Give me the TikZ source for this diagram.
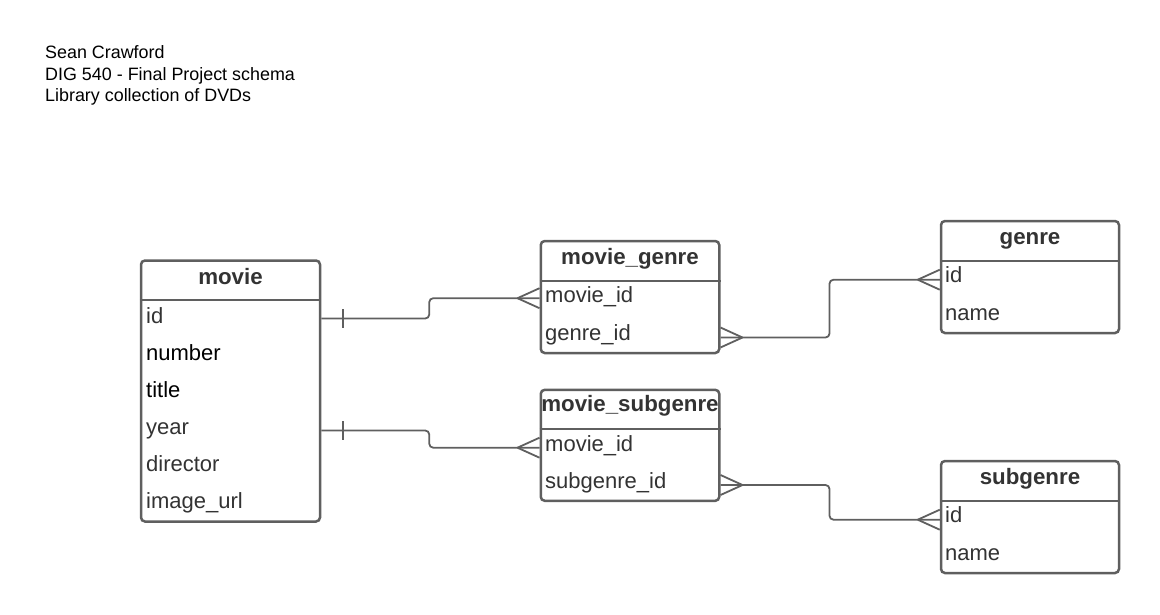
\documentclass[tikz,border=0pt]{standalone}
\usepackage{fontspec}
\setmainfont{Liberation Sans}
\usetikzlibrary{calc}
\definecolor{bordergray}{HTML}{5F5F5F}
\definecolor{textgray}{HTML}{333333}
\begin{document}
\begin{tikzpicture}[x=1pt,y=-1pt,
  tbl/.style={draw=bordergray, line width=2.5pt, rounded corners=4pt, inner sep=0pt, fill=white},
  ttl/.style={font=\fontsize{22.3}{24}\selectfont\bfseries, text=textgray, inner sep=0pt, anchor=base},
  fld/.style={font=\fontsize{22}{24}\selectfont, text=textgray, inner sep=0pt, anchor=base west, text height=14pt, text depth=4pt},
  div/.style={draw=bordergray, line width=2.5pt},
  conn/.style={draw=bordergray, line width=1.8pt},
  hdr/.style={font=\fontsize{17.9}{21.7}\selectfont, text=black, inner sep=0pt, anchor=base west, align=left},
  crowin/.pic={\draw[conn] (-22,0) -- (0,10) (-22,0) -- (0,-10);},
  crowout/.pic={\draw[conn] (22,0) -- (0,10) (22,0) -- (0,-10);},
  onebar/.pic={\draw[conn] (0,-9.5) -- (0,9.5);}
]
\useasboundingbox (0,0) rectangle (1160,614);

% header
\node[hdr] (h1) at (45,58.3) {Sean Crawford};
\node[hdr] (h2) at (45,80) {DIG 540 - Final Project schema};
\node[hdr] (h3) at (45,101.7) {Library collection of DVDs};

% movie table
\node[tbl, minimum width=179pt, minimum height=261pt] (movie) at (230.5,391) {};
\draw[div] (movie.west |- 0,300) -- (movie.east |- 0,300);
\node[ttl] (movie-t) at (230.5,284) {movie};
\node[fld] (movie-id) at (146,323) {id};
\node[fld, text=black] (movie-number) at (146,360) {number};
\node[fld, text=black] (movie-title) at (146,397) {title};
\node[fld] (movie-year) at (146,434) {year};
\node[fld] (movie-director) at (146,471) {director};
\node[fld] (movie-image) at (146,508) {image\_url};

% movie_genre table
\node[tbl, minimum width=178.5pt, minimum height=112pt] (mg) at (630,297) {};
\draw[div] (mg.west |- 0,281) -- (mg.east |- 0,281);
\node[ttl] (mg-t) at (630,264) {movie\_genre};
\node[fld] (mg-movieid) at (545,302.7) {movie\_id};
\node[fld] (mg-genreid) at (545,340) {genre\_id};

% movie_subgenre table
\node[tbl, minimum width=178.5pt, minimum height=111pt] (ms) at (630,445.3) {};
\draw[div] (ms.west |- 0,429) -- (ms.east |- 0,429);
\node[ttl] (ms-t) at (630,411.7) {movie\_subgenre};
\node[fld] (ms-movieid) at (545,451.7) {movie\_id};
\node[fld] (ms-subgenreid) at (545,488.5) {subgenre\_id};

% genre table
\node[tbl, minimum width=178pt, minimum height=112pt] (genre) at (1030,277) {};
\draw[div] (genre.west |- 0,261) -- (genre.east |- 0,261);
\node[ttl] (genre-t) at (1030,244.3) {genre};
\node[fld] (genre-id) at (945,282.7) {id};
\node[fld] (genre-name) at (945,320) {name};

% subgenre table
\node[tbl, minimum width=178pt, minimum height=112pt] (sub) at (1030,517) {};
\draw[div] (sub.west |- 0,501) -- (sub.east |- 0,501);
\node[ttl] (sub-t) at (1030,484.3) {subgenre};
\node[fld] (sub-id) at (945,522.7) {id};
\node[fld] (sub-name) at (945,560) {name};

% connectors
\coordinate (c1a) at ($(movie.east |- movie-id)+(0,0.5)$);
\coordinate (c1b) at ($(mg.west |- mg-movieid)+(0,0.5)$);
\draw[conn, rounded corners=4pt] (c1a) -- ++(108,0) |- (c1b);
\pic at ($(c1a)+(22,0)$) {onebar};
\pic at (c1b) {crowin};

\coordinate (c2a) at ($(movie.east |- movie-year)+(0,1.5)$);
\coordinate (c2b) at ($(ms.west |- ms-movieid)+(0,1)$);
\draw[conn, rounded corners=4pt] (c2a) -- ++(108,0) |- (c2b);
\pic at ($(c2a)+(22,0)$) {onebar};
\pic at (c2b) {crowin};

\coordinate (c3a) at ($(mg.east |- mg-genreid)+(0,2.5)$);
\coordinate (c3b) at ($(genre.west |- genre-id)+(0,2)$);
\draw[conn, rounded corners=4pt] (c3a) -- ++(109,0) |- (c3b);
\pic at (c3a) {crowout};
\pic at (c3b) {crowin};

\coordinate (c4a) at ($(ms.east |- ms-subgenreid)+(0,1.5)$);
\coordinate (c4b) at ($(sub.west |- sub-id)+(0,2)$);
\draw[conn, rounded corners=4pt] (c4a) -- ++(109,0) |- (c4b);
\pic at (c4a) {crowout};
\pic at (c4b) {crowin};
\end{tikzpicture}
\end{document}
